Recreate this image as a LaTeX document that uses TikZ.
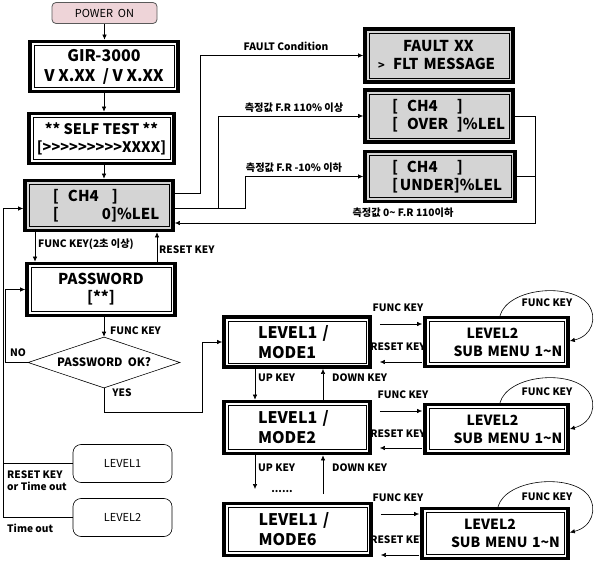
\documentclass[tikz,border=0pt]{standalone}
\usepackage{fontspec}
\setmainfont{Noto Sans CJK KR}
\usetikzlibrary{arrows.meta,shapes.geometric}
\definecolor{lcdg}{RGB}{212,212,212}
\definecolor{pinkf}{RGB}{238,212,216}
\newcommand{\gtk}{>\kern0pt}
\begin{document}
\begin{tikzpicture}[x=1pt,y=-1pt,
  lcd/.style={draw, fill=white, line width=3.7pt, minimum width=148pt, minimum height=50pt,
    inner sep=0pt, align=center, font=\bfseries\fontsize{15}{18}\selectfont,
    path picture={\draw[line width=0.8pt] ([shift={(4pt,4pt)}]path picture bounding box.south west) rectangle ([shift={(-4pt,-4pt)}]path picture bounding box.north east);}},
  lcdgray/.style={lcd, fill=lcdg},
  lbl/.style={font=\bfseries\fontsize{10.2}{12}\selectfont, inner sep=0pt},
  arr/.style={-{Latex[length=5pt,width=4.5pt]}, line width=0.6pt},
  ln/.style={line width=0.6pt},
  rbox/.style={draw, line width=0.6pt, rounded corners=8pt, minimum width=99pt, minimum height=38pt, inner sep=0pt, font=\fontsize{11}{13}\selectfont}
]
\useasboundingbox (0,0) rectangle (598,562);

% ---- top column
\node[draw=black!65, fill=pinkf, line width=0.8pt, rounded corners=4pt, minimum width=105pt, minimum height=21pt, inner sep=0pt, font=\fontsize{11}{13}\selectfont] (pwr) at (104.5,13) {POWER\ \ ON};
\node[lcd, minimum height=50pt, font=\bfseries\fontsize{16}{20}\selectfont] (gir) at (104,66.5) {GIR-3000\\V X.XX\ \ / V X.XX};
\node[lcd, minimum width=145pt, font=\bfseries\fontsize{14.5}{18}\selectfont] (self) at (101.5,138.5) {** SELF TEST **\\{[}\gtk\gtk\gtk\gtk\gtk\gtk\gtk\gtk\gtk XXXX{]}};
\node[lcdgray, text width=140pt, align=left] (ch4) at (99,205.5)
  {\hspace*{24pt}\makebox[15pt][l]{[}\makebox[44pt][l]{CH4}]\\\hspace*{24pt}\makebox[49pt][l]{[}0]\%LEL};
\node[lcd, minimum height=52pt] (pw) at (101,289.5) {PASSWORD\\{[}**{]}};
\node[draw, diamond, aspect=3, line width=0.6pt, inner sep=0pt, minimum width=152pt, minimum height=51pt, font=\bfseries\fontsize{11.5}{13}\selectfont] (dia) at (104,362.5) {PASSWORD\ \ OK?};

% ---- right status boxes
\node[lcdgray, text width=140pt, align=left, minimum height=53pt] (fault) at (439,55.5)
  {\hspace*{34pt}FAULT XX\\\hspace*{9pt}\makebox[15pt][l]{\fontsize{11}{13}\selectfont >}FLT MESSAGE};
\node[lcdgray, text width=140pt, align=left, minimum height=52pt] (over) at (439,116)
  {\hspace*{23pt}\makebox[15pt][l]{[}\makebox[50pt][l]{CH4}]\\\hspace*{23pt}\makebox[15pt][l]{[}\makebox[50pt][l]{OVER}]\%LEL};
\node[lcdgray, text width=140pt, align=left, minimum width=150pt] (under) at (440,176.5)
  {\hspace*{22pt}\makebox[15pt][l]{[}\makebox[50pt][l]{CH4}]\\\hspace*{22pt}\makebox[8pt][l]{[}UNDER]\%LEL};

% ---- level boxes
\node[rbox] (lv1) at (122.5,463.5) {LEVEL1};
\node[rbox] (lv2) at (122.5,517.5) {LEVEL2};

% labels that sit behind the sub-menu boxes
\node[lbl] (rk1) at (398,347) {RESET KEY};
\node[lbl] (rk2) at (398,434) {RESET KEY};
\node[lbl] (rk3) at (398,540) {RESET KEY};

\node[lcd, minimum width=146pt, text width=140pt, align=left, font=\bfseries\fontsize{16}{20}\selectfont] (m1) at (297,342) {\hspace*{31pt}LEVEL1 /\\\hspace*{31pt}MODE1};
\node[lcd, minimum width=146pt, minimum height=52pt, text width=140pt, align=left, font=\bfseries\fontsize{16}{20}\selectfont] (m2) at (297,427.5) {\hspace*{31pt}LEVEL1 /\\\hspace*{31pt}MODE2};
\node[lcd, minimum width=147pt, minimum height=52pt, text width=140pt, align=left, font=\bfseries\fontsize{16}{20}\selectfont] (m6) at (297.5,529.5) {\hspace*{31pt}LEVEL1 /\\\hspace*{31pt}MODE6};
\node[lcd, minimum width=143pt, minimum height=49pt, text width=138pt, align=left, font=\bfseries\fontsize{14}{18}\selectfont] (s1) at (496.5,342) {\hspace*{39pt}LEVEL2\\\hspace*{26pt}SUB MENU 1\textasciitilde N};
\node[lcd, minimum width=143pt, minimum height=49pt, text width=138pt, align=left, font=\bfseries\fontsize{14}{18}\selectfont] (s2) at (496.5,429) {\hspace*{39pt}LEVEL2\\\hspace*{26pt}SUB MENU 1\textasciitilde N};
\node[lcd, minimum width=146pt, minimum height=50pt, text width=140pt, align=left, font=\bfseries\fontsize{14}{18}\selectfont] (s3) at (495,533.5) {\hspace*{39pt}LEVEL2\\\hspace*{26pt}SUB MENU 1\textasciitilde N};

% ---- coordinates
\coordinate (j1) at (200,193);
\coordinate (j2) at (218,208.5);
\coordinate (j3) at (245,208.5);
\coordinate (j4) at (535,116);
\coordinate (k1) at (3,208.5);
\coordinate (y1) at (202,412);
\coordinate (d1) at (255,489);
\coordinate (d2) at (323,494);

% ---- vertical chain
\draw[arr] (pwr.south) -- (pwr.south |- gir.north);
\draw[arr] (gir.south -| 104,0) -- (104,0 |- self.north);
\draw[arr] (self.south -| 104,0) -- (104,0 |- ch4.north);

% ---- status branches
\draw[arr] ([yshift=12.5pt]ch4.east) -- (j1) |- (fault.west);
\draw[ln] ([yshift=-3pt]ch4.east) -- (j3);
\draw[arr] (j2) |- (over.west);
\draw[arr] (j3) |- (under.west);
\draw[ln] (over.east) -- (j4);
\draw[ln] (under.east) -- (under.east -| j4);
\draw[arr] (j4) |- ([yshift=-17.5pt]ch4.east);
\node[lbl] (lf) at (286,46) {FAULT Condition};
\node[lbl] (lo) at (294,108) {측정값 F.R 110\% 이상};
\node[lbl] (lu) at (294,168) {측정값 F.R -10\% 이하};
\node[lbl] (lr) at (403,213) {측정값 0\textasciitilde\ F.R 110이하};

% ---- password
\draw[arr] (35,0 |- ch4.south) -- (35,0 |- pw.north);
\node[lbl, anchor=west] (lfk) at (38,244) {FUNC KEY(2초 이상)};
\draw[arr] (157,0 |- pw.north) -- (157,0 |- ch4.south);
\node[lbl, anchor=west] (lrk) at (159,250) {RESET KEY};
\draw[arr] (dia.north |- pw.south) -- (dia.north);
\node[lbl, anchor=west] (lfk2) at (110,331) {FUNC KEY};
\draw[arr] (dia.west) -- (5,0 |- dia.west) |- (pw.west);
\node[lbl] (lno) at (18,353) {NO};
\draw[arr] (dia.south) |- (y1) |- (m1.west);
\node[lbl] (lyes) at (122,393) {YES};

% ---- return to main
\draw[arr] (lv2.west) -| (k1) -- ([yshift=-3pt]ch4.west);
\draw[ln] (lv1.west) -- (3,0 |- lv1.west);
\node[lbl, anchor=west, align=left] (lrt) at (7,481) {RESET KEY\\or Time out};
\node[lbl, anchor=west] (lto) at (7,528) {Time out};

% ---- level 1 / level 2 arrows
\draw[arr, shorten <=8pt, shorten >=1pt] ([yshift=18pt]m1.east) -- ([yshift=18pt]s1.west);
\draw[arr, shorten <=1pt, shorten >=8pt] ([yshift=-20pt]s1.west) -- ([yshift=-20pt]m1.east);
\node[lbl] (fk1) at (398,308) {FUNC KEY};
\draw[arr, shorten <=8pt, shorten >=1pt] ([yshift=16.5pt]m2.east) -- ([yshift=18pt]s2.west);
\draw[arr, shorten <=1pt, shorten >=8pt] ([yshift=-19pt]s2.west) -- ([yshift=-20.5pt]m2.east);
\node[lbl] (fk2) at (403,395) {FUNC KEY};
\draw[arr, shorten <=8pt, shorten >=1pt] ([yshift=15.5pt]m6.east) -- ([yshift=19.5pt]s3.west);
\draw[arr, shorten <=1pt, shorten >=8pt] ([yshift=-21.5pt]s3.west) -- ([yshift=-25.5pt]m6.east);
\node[lbl] (fk3) at (398,498) {FUNC KEY};

% ---- self loops
\draw[arr] ([xshift=3.5pt]s1.north) .. controls (508,288) and (570,282) .. (588,304) .. controls (598,318) and (592,336) .. ([yshift=1pt]s1.east);
\node[lbl] (lp1) at (547,303) {FUNC KEY};
\draw[arr] ([xshift=3.5pt]s2.north) .. controls (508,375) and (570,369) .. (588,391) .. controls (598,405) and (592,423) .. ([yshift=0pt]s2.east);
\node[lbl] (lp2) at (547,392) {FUNC KEY};
\draw[arr] ([xshift=3pt]s3.north) .. controls (506,479) and (570,473) .. (588,495) .. controls (598,509) and (592,527) .. ([yshift=1pt]s3.east);
\node[lbl] (lp3) at (547,497) {FUNC KEY};

% ---- up / down
\draw[arr] (255,0 |- m1.south) -- (255,0 |- m2.north);
\draw[arr] (323,0 |- m2.north) -- (323,0 |- m1.south);
\node[lbl, anchor=west] (u1) at (258,378) {UP KEY};
\node[lbl, anchor=west] (dn1) at (332,378) {DOWN KEY};
\draw[arr] (255,0 |- m2.south) -- (d1);
\draw[arr] (d2) -- (323,0 |- m2.south);
\node[lbl, anchor=west] (u2) at (258,468) {UP KEY};
\node[lbl, anchor=west] (dn2) at (332,468) {DOWN KEY};
\node[lbl] (dots) at (282,492) {......};
\end{tikzpicture}
\end{document}
